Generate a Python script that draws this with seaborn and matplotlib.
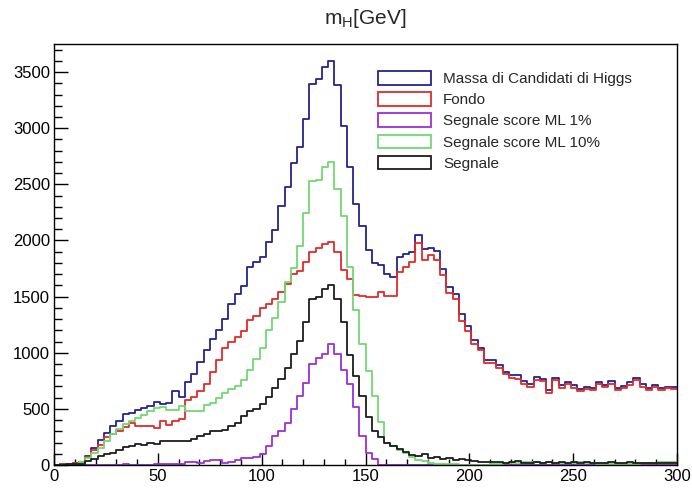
import numpy as np
import pandas as pd
import matplotlib
matplotlib.use("Agg")
import matplotlib.pyplot as plt
from matplotlib.patches import Patch
from matplotlib.ticker import MultipleLocator
import seaborn as sns

# ---- data (3 GeV bins from 0 to 300) ----
bin_edges = np.arange(0, 301, 3)
bin_centers = bin_edges[:-1] + 1.5

massa = [3, 8, 12, 20, 30, 80, 155, 220, 288, 348,
         393, 452, 467, 488, 506, 526, 565, 541, 556, 660,
         607, 740, 815, 920, 1020, 1120, 1200, 1300, 1430, 1520,
         1597, 1766, 1805, 1849, 1990, 2090, 2310, 2480, 2688, 2831,
         3084, 3396, 3441, 3544, 3595, 3381, 3024, 2652, 2325, 2132,
         1915, 1796, 1784, 1701, 1677, 1855, 1880, 1894, 2049, 1924,
         1933, 1903, 1746, 1588, 1523, 1344, 1240, 1112, 1046, 935,
         932, 892, 831, 804, 798, 745, 718, 783, 766, 670,
         775, 712, 742, 710, 678, 699, 688, 735, 716, 744,
         684, 704, 739, 771, 718, 686, 714, 686, 698, 695]

fondo = [2, 5, 10, 15, 30, 70, 130, 175, 253, 274,
         303, 339, 378, 350, 345, 345, 333, 390, 357, 390,
         410, 580, 610, 660, 725, 830, 935, 1041, 1100, 1142,
         1190, 1291, 1329, 1398, 1430, 1480, 1540, 1612, 1701, 1731,
         1805, 1894, 1930, 1970, 1985, 1894, 1740, 1657, 1517, 1502,
         1493, 1493, 1537, 1508, 1508, 1716, 1766, 1805, 1974, 1826,
         1873, 1826, 1695, 1528, 1478, 1285, 1195, 1082, 1023, 907,
         907, 862, 809, 779, 765, 725, 696, 755, 748, 645,
         755, 684, 720, 684, 660, 675, 666, 720, 696, 720,
         666, 684, 714, 755, 696, 666, 696, 666, 684, 675]

ml1 = [0, 0, 0, 0, 0, 0, 0, 0, 0, 0,
       0, 5, 0, 0, 3, 3, 5, 5, 5, 5,
       12, 30, 30, 22, 40, 42, 42, 22, 30, 45,
       60, 65, 75, 95, 170, 259, 303, 378, 497, 616,
       734, 898, 957, 987, 1076, 985, 850, 720, 520, 260,
       110, 50, 0, 0, 0, 0, 0, 0, 0, 0,
       0, 0, 0, 0, 0, 0, 0, 0, 0, 0,
       0, 0, 0, 0, 0, 0, 0, 0, 0, 0,
       0, 0, 0, 0, 0, 0, 0, 0, 0, 0,
       0, 0, 0, 0, 0, 0, 0, 0, 0, 0]

ml10 = [0, 3, 8, 12, 25, 65, 110, 150, 214, 274,
        318, 363, 393, 422, 446, 482, 511, 517, 488, 488,
        526, 482, 482, 482, 535, 556, 595, 645, 675, 705,
        760, 850, 940, 1040, 1201, 1308, 1448, 1626, 1755, 1954,
        2242, 2533, 2540, 2650, 2700, 2455, 2221, 1760, 1380, 1082,
        839, 616, 380, 200, 170, 130, 110, 70, 45, 35,
        15, 10, 8, 5, 5, 3, 0, 0, 0, 0,
        8, 12, 15, 20, 22, 25, 28, 25, 22, 25,
        20, 15, 18, 22, 25, 20, 15, 10, 8, 10,
        12, 10, 8, 10, 15, 18, 22, 28, 28, 25]

segnale = [0, 2, 5, 8, 12, 36, 51, 80, 95, 110,
           131, 160, 170, 184, 180, 199, 184, 214, 214, 210,
           210, 214, 229, 259, 274, 303, 300, 309, 348, 378,
           437, 482, 497, 541, 607, 690, 764, 868, 985, 1105,
           1270, 1480, 1500, 1570, 1605, 1480, 1270, 980, 795, 616,
           425, 305, 250, 195, 170, 140, 115, 90, 78, 95,
           62, 75, 52, 58, 45, 55, 45, 32, 25, 28,
           25, 30, 22, 25, 33, 20, 22, 28, 18, 25,
           20, 28, 22, 26, 18, 24, 22, 15, 20, 24,
           18, 20, 25, 16, 22, 20, 18, 20, 14, 20]

labels = ["Massa di Candidati di Higgs", "Fondo", "Segnale score ML 1%",
          "Segnale score ML 10%", "Segnale"]
colors = ["#23238f", "#e32a2a", "#9a2fd6", "#72d872", "#1c1c1c"]
title = "m$_{\\mathregular{H}}$[GeV]"

# ---- figure ----
sns.set_theme(style="ticks")
plt.rcParams['font.family'] = ['Liberation Sans', 'DejaVu Sans']
plt.rcParams['mathtext.fontset'] = 'custom'
plt.rcParams['mathtext.rm'] = 'Liberation Sans'

W, H = 692, 488
fig = plt.figure(figsize=(W / 100, H / 100), dpi=100)
ax = fig.add_axes([54 / W, 1 - 465 / H, (677 - 54) / W, (465 - 44) / H])

series = [massa, fondo, ml1, ml10, segnale]
for vals, lab, col in zip(series, labels, colors):
    df = pd.DataFrame({"m": bin_centers, "w": np.asarray(vals, dtype=float)})
    sns.histplot(data=df, x="m", weights="w", binwidth=3, binrange=(0, 300),
                 element="step", fill=False, color=col, linewidth=1.3, ax=ax)

ax.set_xlim(0, 300)
ax.set_ylim(0, 3750)
ax.set_xlabel("")
ax.set_ylabel("")
ax.xaxis.set_major_locator(MultipleLocator(50))
ax.xaxis.set_minor_locator(MultipleLocator(10))
ax.yaxis.set_major_locator(MultipleLocator(500))
ax.yaxis.set_minor_locator(MultipleLocator(100))
ax.tick_params(axis='both', which='both', direction='in', top=False, right=False,
               colors='black', labelsize=12, width=1.0)
ax.tick_params(axis='y', which='major', length=10, pad=3)
ax.tick_params(axis='y', which='minor', length=5.5)
ax.tick_params(axis='x', which='major', length=9, pad=3)
ax.tick_params(axis='x', which='minor', length=4.5)
for s in ax.spines.values():
    s.set_visible(True)
    s.set_color('black')
    s.set_linewidth(1.0)

fig.text(365 / W, 1 - 19 / H, title, ha='center', va='center', fontsize=15)

handles = [Patch(facecolor='white', edgecolor=c, linewidth=1.3) for c in colors]
leg = fig.legend(handles, labels, loc='upper left',
                 bbox_to_anchor=(378 / W, 1 - 71 / H), frameon=False,
                 fontsize=11, handlelength=3.5, handleheight=1.0,
                 handletextpad=0.75, labelspacing=0.4, borderaxespad=0,
                 borderpad=0)

fig.savefig("out.png", dpi=100)
